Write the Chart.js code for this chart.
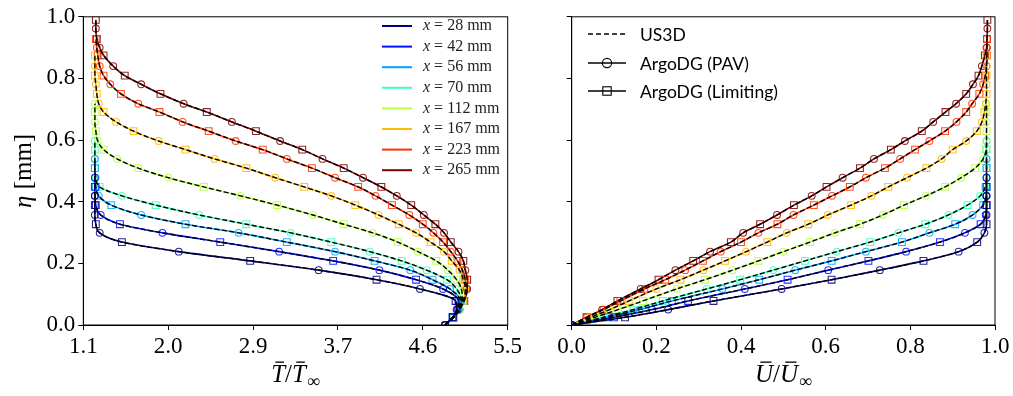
<!DOCTYPE html>
<html lang="en">
<head>
<meta charset="UTF-8" />
<title>Temperature and velocity profiles</title>
<script src="https://cdn.jsdelivr.net/npm/chart.js"></script>
<style>
  body { margin: 0; background: #fff; }
  #wrap { position: relative; width: 1013px; height: 396px; }
  #tempChart { position: absolute; left: 0; top: 0; }
  #velChart { position: absolute; left: 530px; top: 0; }
</style>
</head>
<body>
<div id="wrap">
  <canvas id="tempChart" width="530" height="396"></canvas>
  <canvas id="velChart" width="483" height="396"></canvas>
</div>
<script>
// wall-normal levels (mm) shared by all profiles
const etaLevels = [0, 0.025, 0.05, 0.078, 0.117, 0.147, 0.178, 0.208, 0.238, 0.269, 0.299, 0.327,
  0.357, 0.389, 0.419, 0.448, 0.478, 0.509, 0.539, 0.569, 0.597, 0.629, 0.659, 0.691, 0.718, 0.75,
  0.781, 0.809, 0.84, 0.875, 0.90, 0.928, 0.962, 0.99];

const stations = ['28', '42', '56', '70', '112', '167', '223', '265'];

// T / T_inf read at etaLevels
const T28 = [4.85, 4.93, 4.97, 4.96, 4.59, 4.14, 3.54, 2.83, 2.09, 1.50, 1.27, 1.23, 1.22, 1.22, 1.22];
const T42 = [4.85, 4.93, 4.98, 4.99, 4.83, 4.55, 4.17, 3.69, 3.13, 2.52, 1.92, 1.48, 1.28, 1.23, 1.22, 1.22, 1.22];
const T56 = [4.85, 4.93, 4.99, 5.01, 4.90, 4.72, 4.49, 4.12, 3.71, 3.21, 2.71, 2.16, 1.70, 1.39, 1.26, 1.23, 1.22, 1.22, 1.22];
const T70 = [4.85, 4.94, 5.00, 5.02, 4.97, 4.87, 4.66, 4.40, 4.07, 3.67, 3.25, 2.79, 2.30, 1.85, 1.50, 1.27, 1.23, 1.22, 1.22, 1.22, 1.22];
const T112 = [4.85, 4.94, 5.00, 5.03, 5.02, 4.97, 4.88, 4.76, 4.57, 4.36, 4.10, 3.80, 3.48, 3.11, 2.73, 2.35, 1.98, 1.67, 1.45, 1.31, 1.25, 1.23, 1.22, 1.22, 1.22];
const T167 = [4.85, 4.94, 5.00, 5.04, 5.06, 5.04, 5.00, 4.92, 4.84, 4.70, 4.55, 4.37, 4.16, 3.92, 3.67, 3.39, 3.09, 2.79, 2.46, 2.16, 1.88, 1.62, 1.44, 1.31, 1.26, 1.24, 1.23, 1.22, 1.22, 1.22];
const T223 = [4.85, 4.94, 5.00, 5.04, 5.07, 5.06, 5.03, 4.98, 4.91, 4.83, 4.73, 4.62, 4.48, 4.30, 4.13, 3.95, 3.71, 3.47, 3.21, 2.96, 2.68, 2.40, 2.13, 1.89, 1.67, 1.49, 1.38, 1.31, 1.27, 1.25, 1.24, 1.23];
const T265 = [4.85, 4.94, 5.00, 5.05, 5.08, 5.08, 5.06, 5.04, 4.99, 4.91, 4.84, 4.75, 4.63, 4.50, 4.35, 4.19, 4.00, 3.80, 3.58, 3.37, 3.14, 2.89, 2.64, 2.38, 2.14, 1.90, 1.70, 1.53, 1.41, 1.31, 1.27, 1.24, 1.23, 1.23];

// U / U_inf read at etaLevels
const U28 = [0, 0.126, 0.228, 0.335, 0.496, 0.614, 0.728, 0.831, 0.914, 0.958, 0.975, 0.98, 0.98, 0.98, 0.98];
const U42 = [0, 0.10, 0.19, 0.275, 0.409, 0.51, 0.606, 0.701, 0.79, 0.87, 0.929, 0.966, 0.978, 0.98, 0.98, 0.98, 0.98];
const U56 = [0, 0.085, 0.16, 0.237, 0.356, 0.443, 0.528, 0.614, 0.695, 0.78, 0.845, 0.906, 0.947, 0.972, 0.979, 0.98, 0.98, 0.98, 0.98];
const U70 = [0, 0.075, 0.145, 0.215, 0.319, 0.398, 0.476, 0.551, 0.626, 0.705, 0.772, 0.835, 0.89, 0.935, 0.965, 0.977, 0.98, 0.98, 0.98, 0.98, 0.98];
const U112 = [0, 0.055, 0.11, 0.168, 0.248, 0.315, 0.38, 0.441, 0.50, 0.563, 0.622, 0.681, 0.735, 0.785, 0.837, 0.882, 0.92, 0.953, 0.972, 0.979, 0.98, 0.98, 0.98, 0.98, 0.98];
const U167 = [0, 0.045, 0.09, 0.135, 0.2, 0.257, 0.311, 0.362, 0.412, 0.462, 0.508, 0.559, 0.605, 0.66, 0.708, 0.748, 0.792, 0.838, 0.874, 0.90, 0.932, 0.957, 0.969, 0.975, 0.978, 0.98, 0.98, 0.98, 0.98, 0.98];
const U223 = [0, 0.037, 0.075, 0.115, 0.172, 0.221, 0.268, 0.31, 0.352, 0.40, 0.441, 0.486, 0.524, 0.572, 0.615, 0.657, 0.695, 0.74, 0.776, 0.811, 0.845, 0.882, 0.909, 0.932, 0.946, 0.963, 0.972, 0.977, 0.980, 0.981, 0.981, 0.981];
const U265 = [0, 0.035, 0.072, 0.108, 0.163, 0.205, 0.245, 0.287, 0.327, 0.376, 0.405, 0.445, 0.485, 0.525, 0.567, 0.602, 0.64, 0.681, 0.714, 0.754, 0.787, 0.827, 0.854, 0.883, 0.908, 0.932, 0.948, 0.961, 0.969, 0.976, 0.980, 0.981, 0.982, 0.982];

const tempTicks = [1.1, 1.98, 2.86, 3.74, 4.62, 5.5];
const velTicks = [0, 0.2, 0.4, 0.6, 0.8, 1.0];
const etaTicks = [0, 0.2, 0.4, 0.6, 0.8, 1.0];

const tempSeries = [T28, T42, T56, T70, T112, T167, T223, T265];
const velSeries = [U28, U42, U56, U70, U112, U167, U223, U265];

// jet colormap samples
const colors = [[0, 0, 128], [0, 18, 255], [0, 164, 255], [65, 255, 182],
  [182, 255, 65], [255, 185, 0], [255, 50, 0], [128, 0, 0]];
const rgb = (c, a) => a === undefined ? `rgb(${c})` : `rgba(${c},${a})`;

const SERIF = '"Liberation Serif", "DejaVu Serif", serif';
const SANS = 'Lato, "Open Sans", sans-serif';

function buildDatasets(series) {
  const sets = [];
  series.forEach((vals, k) => {
    const pts = vals.map((v, i) => ({ x: v, y: etaLevels[i] }));
    sets.push({
      data: pts,
      order: 1,
      borderColor: rgb(colors[k]),
      borderWidth: 1.6,
      cubicInterpolationMode: 'monotone',
      pointStyle: ctx => ctx.dataIndex % 2 === 0 ? 'circle' : 'rect',
      pointRadius: ctx => ctx.dataIndex % 2 === 0 ? 3.4 : 4.8,
      pointBorderColor: rgb(colors[k], 0.85),
      pointBackgroundColor: 'rgba(0,0,0,0)',
      pointBorderWidth: 1.1
    });
    sets.push({
      data: pts,
      order: 0,
      borderColor: '#000',
      borderWidth: 1.4,
      borderDash: [5, 2.5],
      cubicInterpolationMode: 'monotone',
      pointRadius: 0
    });
  });
  return sets;
}

function macron(ctx, x, w, baseline, size) {
  ctx.fillRect(x + w * 0.3, baseline - size * 0.82, w * 0.62, 1.3);
}

function drawRatioTitle(ctx, letter, cx, baseline) {
  const size = 25;
  const fi = `italic ${size}px ${SERIF}`, fu = `${size}px ${SERIF}`, fs = `${Math.round(size * 0.7)}px ${SERIF}`;
  ctx.font = fi; const wL = ctx.measureText(letter).width;
  ctx.font = fu; const wS = ctx.measureText('/').width;
  ctx.font = fs; const wI = ctx.measureText('∞').width;
  let x = cx - (2 * wL + wS + wI + 1) / 2;
  ctx.textAlign = 'left';
  ctx.textBaseline = 'alphabetic';
  ctx.font = fi; ctx.fillText(letter, x, baseline); macron(ctx, x, wL, baseline, size); x += wL;
  ctx.font = fu; ctx.fillText('/', x, baseline); x += wS;
  ctx.font = fi; ctx.fillText(letter, x, baseline); macron(ctx, x, wL, baseline, size); x += wL + 1;
  ctx.font = fs; ctx.fillText('∞', x, baseline + size * 0.2);
}

function drawEtaTitle(ctx, cx, cy) {
  const size = 25;
  ctx.save();
  ctx.translate(cx, cy);
  ctx.rotate(-Math.PI / 2);
  ctx.font = `italic ${size}px ${SERIF}`; const w1 = ctx.measureText('η').width;
  ctx.font = `${size}px ${SERIF}`; const w2 = ctx.measureText(' [mm]').width;
  let x = -(w1 + w2) / 2;
  ctx.textAlign = 'left';
  ctx.textBaseline = 'alphabetic';
  ctx.font = `italic ${size}px ${SERIF}`; ctx.fillText('η', x, 8);
  ctx.font = `${size}px ${SERIF}`; ctx.fillText(' [mm]', x + w1, 8);
  ctx.restore();
}

function drawStationLegend(ctx) {
  ctx.textAlign = 'left';
  ctx.textBaseline = 'middle';
  stations.forEach((s, i) => {
    const y = 26 + i * 20.6;
    ctx.strokeStyle = rgb(colors[i]);
    ctx.lineWidth = 2;
    ctx.beginPath(); ctx.moveTo(382, y); ctx.lineTo(412, y); ctx.stroke();
    ctx.fillStyle = '#222';
    let x = 423;
    ctx.font = `italic 16px ${SERIF}`; ctx.fillText('x', x, y); x += ctx.measureText('x').width + 4;
    ctx.font = `16px ${SERIF}`; ctx.fillText('=', x, y); x += ctx.measureText('=').width + 4;
    ctx.fillText(s + ' mm', x, y);
  });
}

function drawMethodLegend(ctx) {
  const x0 = 58, x1 = 96, xm = 77, xt = 110;
  const rows = [34, 63, 91];
  const labels = ['US3D', 'ArgoDG (PAV)', 'ArgoDG (Limiting)'];
  ctx.strokeStyle = '#000';
  ctx.fillStyle = '#000';
  ctx.lineWidth = 1.5;
  rows.forEach((y, i) => {
    ctx.setLineDash(i === 0 ? [5, 3] : []);
    ctx.beginPath(); ctx.moveTo(x0, y); ctx.lineTo(x1, y); ctx.stroke();
    ctx.setLineDash([]);
    ctx.lineWidth = 1.1;
    if (i === 1) { ctx.beginPath(); ctx.arc(xm, y, 4.6, 0, Math.PI * 2); ctx.stroke(); }
    if (i === 2) { ctx.strokeRect(xm - 4.2, y - 4.2, 8.4, 8.4); }
    ctx.lineWidth = 1.5;
    ctx.font = `17.5px ${SANS}`;
    ctx.textAlign = 'left';
    ctx.textBaseline = 'middle';
    ctx.fillText(labels[i], xt, y + 1);
  });
}

function panelPlugin(letter, withEta, legend) {
  return {
    id: 'panelText' + letter,
    afterDraw(chart) {
      const ctx = chart.ctx;
      const a = chart.chartArea;
      ctx.save();
      ctx.strokeStyle = '#000';
      ctx.lineWidth = 1;
      ctx.strokeRect(a.left, a.top, a.right - a.left, a.bottom - a.top);
      ctx.fillStyle = '#000';
      drawRatioTitle(ctx, letter, (a.left + a.right) / 2, 382);
      if (withEta) drawEtaTitle(ctx, 23, (a.top + a.bottom) / 2);
      legend(ctx);
      ctx.restore();
    }
  };
}

function axisOptions(xMin, xMax, xTicks, yAxisWidth, showYLabels) {
  const tickFont = { family: SERIF, size: 23 };
  return {
    x: {
      type: 'linear', min: xMin, max: xMax,
      afterBuildTicks: s => { s.ticks = xTicks.map(v => ({ value: v })); },
      afterFit: s => { s.height = 71; },
      ticks: { callback: v => Number(v).toFixed(1), font: tickFont, color: '#000', padding: 3, maxRotation: 0 },
      grid: { drawOnChartArea: false, drawTicks: true, tickLength: 5, color: '#000', lineWidth: 1 },
      border: { color: '#000', width: 1 }
    },
    y: {
      type: 'linear', min: 0, max: 1,
      afterBuildTicks: s => { s.ticks = etaTicks.map(v => ({ value: v })); },
      afterFit: s => { s.width = yAxisWidth; },
      ticks: { callback: v => showYLabels ? Number(v).toFixed(1) : '', font: tickFont, color: '#000', padding: 3 },
      grid: { drawOnChartArea: false, drawTicks: true, tickLength: 5, color: '#000', lineWidth: 1 },
      border: { color: '#000', width: 1 }
    }
  };
}

function makeChart(id, series, xMin, xMax, xTicks, yAxisWidth, rightPad, showYLabels, plugin) {
  return new Chart(document.getElementById(id), {
    type: 'line',
    data: { datasets: buildDatasets(series) },
    options: {
      responsive: false,
      animation: false,
      events: [],
      indexAxis: 'y',
      layout: { padding: { left: 0, right: rightPad, top: 12.5, bottom: 0 } },
      scales: axisOptions(xMin, xMax, xTicks, yAxisWidth, showYLabels),
      plugins: { legend: { display: false }, tooltip: { enabled: false } }
    },
    plugins: [plugin]
  });
}

makeChart('tempChart', tempSeries, 1.1, 5.5, tempTicks, 83.3, 22.3, true,
  panelPlugin('T', true, drawStationLegend));
makeChart('velChart', velSeries, 0, 1, velTicks, 41.7, 18, false,
  panelPlugin('U', false, drawMethodLegend));
</script>
</body>
</html>
